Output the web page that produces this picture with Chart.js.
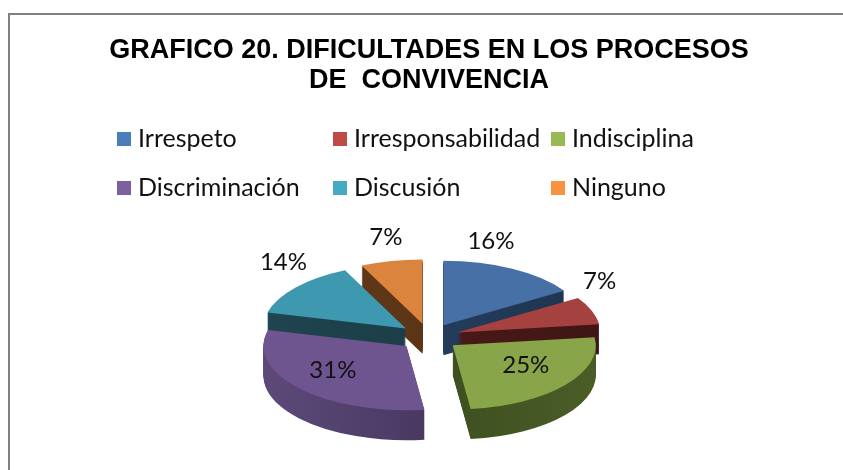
<!DOCTYPE html>
<html><head><meta charset="utf-8">
<script src="https://cdn.jsdelivr.net/npm/chart.js@4.4.1/dist/chart.umd.min.js"></script>
<style>
html,body{margin:0;padding:0;background:#fff;overflow:hidden;}
#wrap{position:relative;width:843px;height:470px;overflow:hidden;background:#fff;}
#frame{position:absolute;left:8px;top:13px;width:900px;height:520px;border:2px solid #808080;box-sizing:border-box;}
canvas{position:absolute;left:0;top:0;}
#legend{position:absolute;left:0;top:0;}
.item{position:absolute;height:30px;white-space:nowrap;font-family:Lato,sans-serif;font-size:25px;line-height:30px;color:#111;}
.item .box{position:absolute;left:0;top:10px;width:14px;height:14px;}
.item .txt{position:absolute;left:21px;top:0;}
</style></head>
<body>
<div id="wrap"><div id="frame"></div><canvas id="c" width="843" height="470"></canvas><div id="legend"></div></div>
<script>
// ---- data ----
const titleLines = ['GRAFICO 20. DIFICULTADES EN LOS PROCESOS', 'DE  CONVIVENCIA'];
const categories = ['Irrespeto', 'Irresponsabilidad', 'Indisciplina', 'Discriminación', 'Discusión', 'Ninguno'];
const percentages = [16, 7, 25, 31, 14, 7];

// ---- styles ----
const topColors = ['#4670A6', '#A5413E', '#88A54A', '#6F5590', '#3E98AF', '#DA843E'];
const legendColors = ['#4A7EBB', '#BE4B48', '#98B954', '#7D60A0', '#46AAC5', '#F69240'];
const sideColors = [['#2A4568', '#1E344F'], ['#501D1B', '#3F1615'], ['#34421C', '#4A5D26'],
                    ['#5C4979', '#3A2D50'], ['#1F4550', '#183740'], ['#63391A', '#553013']];
const legendCols = [117, 333, 551];
const legendRows = [122, 171];

// legend (HTML grid like Excel's)
const lg = document.getElementById('legend');
categories.forEach((name, i) => {
  const d = document.createElement('div');
  d.className = 'item';
  d.style.left = legendCols[i % 3] + 'px';
  d.style.top = legendRows[Math.floor(i / 3)] + 'px';
  d.innerHTML = '<span class="box" style="background:' + legendColors[i] + '"></span><span class="txt"></span>';
  d.querySelector('.txt').textContent = name;
  lg.appendChild(d);
});

const pie3d = {
  id: 'pie3d',
  beforeDatasetDraw(chart, args, o) {
    const ctx = chart.ctx;
    const arcs = args.meta.data;
    if (!arcs.length) return;
    const cx = arcs[0].x, cy = arcs[0].y;
    const place = (arc, dy) => {
      const mid = (arc.startAngle + arc.endAngle) / 2;
      ctx.translate(0, dy);
      ctx.translate(cx, cy); ctx.scale(1, o.squash); ctx.translate(-cx, -cy);
      ctx.translate(Math.cos(mid) * o.explode, Math.sin(mid) * o.explode);
    };
    for (let d = o.depth; d >= 1; d--) {
      arcs.forEach((arc, i) => {
        ctx.save();
        place(arc, d);
        const g = ctx.createLinearGradient(cx - arc.outerRadius, 0, cx + arc.outerRadius, 0);
        g.addColorStop(0, o.side[i][0]);
        g.addColorStop(1, o.side[i][1]);
        const fake = Object.create(arc);
        fake.options = Object.assign({}, arc.options, {backgroundColor: g, borderWidth: 0});
        fake.draw(ctx);
        ctx.restore();
      });
    }
    arcs.forEach(arc => {
      ctx.save();
      place(arc, 0);
      arc.draw(ctx);
      ctx.restore();
    });
    return false;
  },
  afterDatasetsDraw(chart, args, o) {
    const ctx = chart.ctx;
    const arcs = chart.getDatasetMeta(0).data;
    const vals = chart.data.datasets[0].data;
    const cx = arcs[0].x, cy = arcs[0].y;
    ctx.save();
    ctx.font = '24px Lato';
    ctx.fillStyle = '#111';
    ctx.textAlign = 'center';
    ctx.textBaseline = 'middle';
    arcs.forEach((arc, i) => {
      const a = (arc.startAngle + arc.endAngle) / 2 + o.labelShift[i] * Math.PI / 180;
      const r = o.labelDist[i];
      ctx.fillText(vals[i] + '%', cx + Math.cos(a) * r, cy + Math.sin(a) * r * o.squash);
    });
    ctx.restore();
  }
};

new Chart(document.getElementById('c'), {
  type: 'pie',
  data: {
    labels: categories,
    datasets: [{
      data: percentages,
      backgroundColor: topColors,
      borderWidth: 0,
      offset: 0,
      hoverOffset: 0,
      clip: false
    }]
  },
  plugins: [pie3d],
  options: {
    responsive: false,
    animation: false,
    radius: 143,
    events: [],
    layout: {padding: {left: 40, right: 25, top: 0, bottom: 0}},
    plugins: {
      legend: {display: false},
      tooltip: {enabled: false},
      title: {
        display: true,
        text: titleLines,
        color: '#000',
        font: {family: '"Liberation Sans", Arial, sans-serif', size: 27, weight: 'bold', lineHeight: 30 / 27},
        padding: {top: 36, bottom: 108}
      },
      pie3d: {
        squash: 0.45,
        depth: 30,
        explode: 30,
        side: sideColors,
        labelShift: [-12.6, -16.2, -5.1, 4, 9.2, 1.6],
        labelDist: [222, 211, 115, 121, 221, 226]
      }
    }
  }
});
</script>
</body></html>
